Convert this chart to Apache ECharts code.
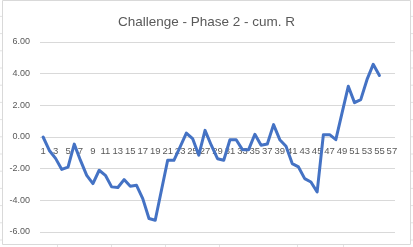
<!DOCTYPE html>
<html>
<head>
<meta charset="utf-8">
<script src="https://cdn.jsdelivr.net/npm/echarts@6/dist/echarts.min.js"></script>
<style>
html,body{margin:0;padding:0;background:#fff;}
#chart{width:413px;height:247px;}
</style>
</head>
<body>
<div id="chart"></div>
<script>
const titleText = 'Challenge - Phase 2 - cum. R';
const categories = [];
for (let i = 1; i <= 57; i++) categories.push(String(i));
const cumR = [
  0.00, -0.85, -1.35, -2.05, -1.90, -0.45, -1.48, -2.42, -2.94, -2.10,
  -2.42, -3.15, -3.19, -2.69, -3.11, -3.05, -3.89, -5.15, -5.26, -3.36,
  -1.47, -1.47, -0.63, 0.25, -0.10, -1.15, 0.42, -0.52, -1.37, -1.47,
  -0.17, -0.17, -0.80, -0.80, 0.17, -0.52, -0.44, 0.78, -0.17, -0.59,
  -1.68, -1.89, -2.63, -2.84, -3.47, 0.15, 0.15, -0.17, 1.52, 3.20,
  2.17, 2.36, 3.62, 4.59, 3.89
];
const yMin = -6, yMax = 6, yStep = 2;

const chart = echarts.init(document.getElementById('chart'), null, {renderer: 'canvas'});

const gridTop = 42, gridBottom = 15, H = 247;
const plotH = H - gridTop - gridBottom;
const zeroOffset = -plotH * (0 - yMin) / (yMax - yMin);

// decorative spreadsheet cell lines and chart border
const gfx = [];
const rowYs = [16.4, 33.6, 50.8, 68, 85.2, 102.4, 119.6, 136.8, 154, 171.2, 188.4, 205.6, 222.8, 240];
rowYs.forEach(y => {
  gfx.push({type:'line', silent:true, shape:{x1:0, y1:y, x2:2.5, y2:y}, style:{stroke:'#e3e3e3', lineWidth:1}});
  gfx.push({type:'line', silent:true, shape:{x1:410.5, y1:y, x2:413, y2:y}, style:{stroke:'#e3e3e3', lineWidth:1}});
});
[57.5, 111.5, 165.5, 219.5, 297.5, 343.5].forEach(x => {
  gfx.push({type:'line', silent:true, shape:{x1:x, y1:244.5, x2:x, y2:247}, style:{stroke:'#e3e3e3', lineWidth:1}});
});
gfx.push({type:'rect', silent:true, shape:{x:2.5, y:0.5, width:408, height:244}, style:{fill:null, stroke:'#d9d9d9', lineWidth:1}});

chart.setOption({
  animation: false,
  backgroundColor: '#ffffff',
  title: {
    text: titleText,
    left: 'center',
    top: 10,
    textStyle: {fontFamily: 'Liberation Sans, Arial, sans-serif', fontSize: 13.5, fontWeight: 'normal', color: '#595959'}
  },
  grid: {left: 40, right: 18, top: gridTop, bottom: gridBottom, containLabel: false},
  xAxis: {
    type: 'category',
    data: categories,
    boundaryGap: true,
    offset: zeroOffset,
    axisLine: {show: false, onZero: false},
    axisTick: {show: false},
    axisLabel: {
      interval: 1,
      margin: 9,
      hideOverlap: false,
      fontFamily: 'Liberation Sans, Arial, sans-serif',
      fontSize: 9.5,
      color: '#595959'
    },
    splitLine: {show: false}
  },
  yAxis: {
    type: 'value',
    min: yMin,
    max: yMax,
    interval: yStep,
    axisLine: {show: false},
    axisTick: {show: false},
    axisLabel: {
      margin: 10,
      fontFamily: 'Liberation Sans, Arial, sans-serif',
      fontSize: 9,
      color: '#595959',
      formatter: v => v.toFixed(2)
    },
    splitLine: {show: true, lineStyle: {color: '#d9d9d9', width: 1}}
  },
  series: [{
    type: 'line',
    data: cumR,
    showSymbol: false,
    symbol: 'none',
    lineStyle: {color: '#4472C4', width: 3, join: 'round', cap: 'round'},
    itemStyle: {color: '#4472C4'}
  }],
  graphic: gfx
});
</script>
</body>
</html>
